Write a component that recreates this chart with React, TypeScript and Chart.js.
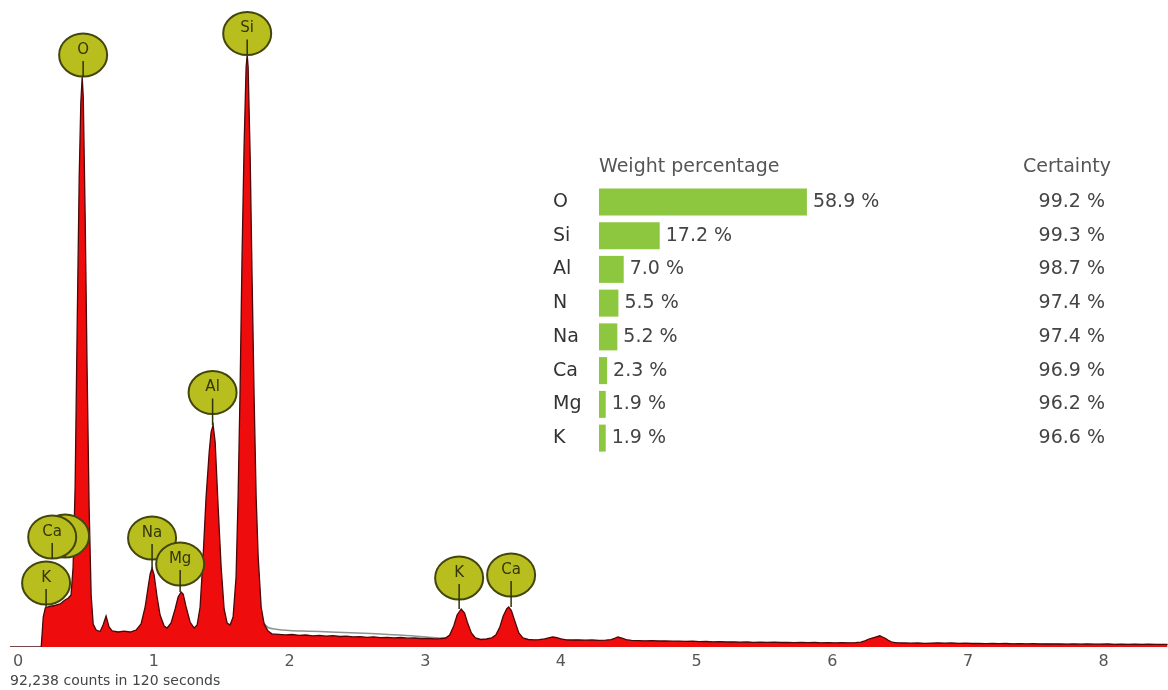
import React, { useEffect, useRef } from 'react';
import { Chart, registerables } from 'chart.js';

Chart.register(...registerables);

// ---------- EDS spectrum (energy in keV, counts) ----------
const energyKeV = [
  -0.06, 0.17, 0.185, 0.2, 0.23, 0.27, 0.31, 0.34, 0.37, 0.39,
  0.405, 0.42, 0.435, 0.45, 0.462, 0.472, 0.48, 0.494, 0.508, 0.523,
  0.538, 0.553, 0.575, 0.604, 0.626, 0.648, 0.67, 0.693, 0.737, 0.781,
  0.825, 0.87, 0.906, 0.936, 0.958, 0.973, 0.987, 1.002, 1.024, 1.046,
  1.076, 1.098, 1.127, 1.157, 1.179, 1.201, 1.216, 1.238, 1.267, 1.297,
  1.319, 1.341, 1.363, 1.385, 1.408, 1.422, 1.437, 1.452, 1.474, 1.496,
  1.518, 1.54, 1.562, 1.584, 1.606, 1.621, 1.636, 1.65, 1.665, 1.68,
  1.688, 1.695, 1.71, 1.724, 1.739, 1.754, 1.769, 1.791, 1.813, 1.842,
  1.87, 1.92, 1.97, 2.02, 2.07, 2.12, 2.17, 2.22, 2.27, 2.32,
  2.37, 2.42, 2.47, 2.52, 2.57, 2.62, 2.67, 2.72, 2.77, 2.82,
  2.87, 2.92, 2.97, 3.02, 3.07, 3.11, 3.15, 3.18, 3.21, 3.235,
  3.265, 3.29, 3.31, 3.34, 3.37, 3.41, 3.45, 3.49, 3.52, 3.55,
  3.575, 3.6, 3.615, 3.635, 3.66, 3.69, 3.72, 3.76, 3.8, 3.84,
  3.88, 3.91, 3.94, 3.97, 4.0, 4.04, 4.08, 4.13, 4.18, 4.23,
  4.28, 4.33, 4.37, 4.4, 4.42, 4.45, 4.48, 4.52, 4.57, 4.62,
  4.67, 4.72, 4.77, 4.82, 4.87, 4.92, 4.97, 5.02, 5.07, 5.12,
  5.17, 5.22, 5.27, 5.32, 5.37, 5.42, 5.47, 5.52, 5.57, 5.62,
  5.67, 5.72, 5.77, 5.82, 5.87, 5.92, 5.97, 6.02, 6.07, 6.12,
  6.17, 6.21, 6.24, 6.27, 6.3, 6.33, 6.35, 6.37, 6.39, 6.41,
  6.44, 6.48, 6.53, 6.58, 6.63, 6.68, 6.73, 6.78, 6.83, 6.88,
  6.93, 6.98, 7.03, 7.08, 7.13, 7.18, 7.23, 7.28, 7.33, 7.38,
  7.43, 7.48, 7.53, 7.58, 7.63, 7.68, 7.73, 7.78, 7.83, 7.88,
  7.93, 7.98, 8.03, 8.08, 8.13, 8.18, 8.23, 8.28, 8.33, 8.38,
  8.43, 8.47,
];
const counts = [
  0, 0, 300, 390, 405, 415, 430, 465, 490, 520,
  800, 1600, 3200, 4700, 5450, 5700, 5500, 4300, 2800, 1400,
  520, 230, 170, 155, 220, 310, 200, 160, 150, 158,
  150, 170, 230, 400, 600, 730, 790, 720, 500, 320,
  210, 190, 240, 380, 500, 550, 530, 400, 250, 190,
  220, 400, 900, 1500, 1950, 2150, 2220, 2050, 1400, 800,
  380, 240, 220, 300, 700, 1500, 2600, 3900, 5000, 5800,
  5920, 5800, 4900, 3700, 2500, 1500, 900, 400, 230, 160,
  132, 126, 121, 125, 117, 120, 112, 116, 109, 113,
  105, 108, 101, 104, 97, 102, 94, 97, 91, 95,
  88, 90, 85, 87, 82, 84, 90, 120, 210, 320,
  380, 340, 250, 140, 90, 75, 80, 92, 120, 200,
  310, 380, 400, 365, 260, 140, 90, 75, 72, 74,
  82, 92, 100, 94, 82, 72, 70, 72, 68, 70,
  66, 68, 74, 88, 100, 90, 74, 66, 64, 62,
  63, 60, 61, 58, 59, 56, 58, 54, 55, 52,
  54, 50, 52, 49, 50, 47, 49, 46, 48, 45,
  47, 44, 46, 43, 45, 42, 44, 41, 43, 42,
  44, 48, 62, 80, 92, 104, 112, 100, 88, 70,
  48, 42, 40, 38, 40, 37, 39, 42, 38, 40,
  36, 38, 35, 37, 34, 36, 33, 35, 32, 34,
  31, 33, 30, 32, 30, 31, 29, 31, 28, 30,
  28, 29, 30, 27, 29, 27, 28, 26, 28, 26,
  27, 26,
];

// fitted background (grey line)
const backgroundKeV = [1.8, 1.842, 1.9, 2.0, 2.15, 2.3, 2.5, 2.7, 2.9, 3.1, 3.4, 3.8, 4.5, 5.5, 6.5, 7.5, 8.47];
const backgroundCounts = [260, 195, 178, 166, 158, 150, 140, 128, 112, 90, 70, 62, 52, 40, 32, 26, 22];

const xTickValues = [0, 1, 2, 3, 4, 5, 6, 7, 8];
const countsCaption = '92,238 counts in 120 seconds';

// element markers on the spectrum (marker centre in keV / counts)
const peakLabels = ['N', 'Ca', 'K', 'O', 'Si', 'Al', 'Na', 'Mg', 'K', 'Ca'];
const peakLabelKeV = [0.346, 0.251, 0.206, 0.479, 1.688, 1.433, 0.987, 1.194, 3.25, 3.633];
const peakLabelCounts = [1110, 1100, 640, 5920, 6135, 2545, 1090, 830, 690, 720];

// ---------- quantification table ----------
const elements = ['O', 'Si', 'Al', 'N', 'Na', 'Ca', 'Mg', 'K'];
const weightPct = [58.9, 17.2, 7.0, 5.5, 5.2, 2.3, 1.9, 1.9];
const certaintyPct = [99.2, 99.3, 98.7, 97.4, 97.4, 96.9, 96.2, 96.6];
const weightHeader = 'Weight percentage';
const certaintyHeader = 'Certainty';

const FONT = '"DejaVu Sans", sans-serif';

export default function App() {
  const specRef = useRef<HTMLCanvasElement>(null);
  const tableRef = useRef<HTMLCanvasElement>(null);

  useEffect(() => {
    const spectrumPoints = energyKeV.map((e, i) => ({ x: e, y: counts[i] }));
    const bgPoints = backgroundKeV.map((e, i) => ({ x: e, y: backgroundCounts[i] }));

    const labelPlugin = {
      id: 'peakLabels',
      afterDatasetsDraw(chart: any) {
        const { ctx } = chart;
        const x = chart.scales.x;
        const y = chart.scales.y;
        ctx.save();
        peakLabels.forEach((name, i) => {
          const cx = x.getPixelForValue(peakLabelKeV[i]);
          const cy = y.getPixelForValue(peakLabelCounts[i]);
          const rx = 24;
          const ry = 21.5;
          let best = 0;
          energyKeV.forEach((e, j) => {
            if (Math.abs(e - peakLabelKeV[i]) <= 0.02 && counts[j] > best) best = counts[j];
          });
          const peakPx = y.getPixelForValue(best);
          const bottom = cy + ry;
          const tickEnd = peakPx > bottom && peakPx - bottom < 20 ? peakPx : bottom;
          ctx.beginPath();
          ctx.ellipse(cx, cy, rx, ry, 0, 0, Math.PI * 2);
          ctx.fillStyle = '#b9be1f';
          ctx.fill();
          ctx.lineWidth = 2;
          ctx.strokeStyle = '#43460c';
          ctx.stroke();
          ctx.beginPath();
          ctx.moveTo(cx, cy + 6);
          ctx.lineTo(cx, tickEnd);
          ctx.lineWidth = 1.5;
          ctx.strokeStyle = '#2f3208';
          ctx.stroke();
          ctx.fillStyle = '#34360a';
          ctx.font = `15px ${FONT}`;
          ctx.textAlign = 'center';
          ctx.textBaseline = 'middle';
          ctx.fillText(name, cx, cy - 5);
        });
        ctx.fillStyle = '#444';
        ctx.font = `14px ${FONT}`;
        ctx.textAlign = 'left';
        ctx.textBaseline = 'middle';
        ctx.fillText(countsCaption, chart.chartArea.left, chart.height - 9);
        ctx.restore();
      },
    };

    const spec = new Chart(specRef.current as HTMLCanvasElement, {
      type: 'line',
      data: {
        datasets: [
          {
            data: spectrumPoints,
            fill: 'origin',
            backgroundColor: '#ee0c0c',
            borderColor: '#4a0808',
            borderWidth: 1.3,
            pointRadius: 0,
            tension: 0,
            order: 0,
          },
          {
            data: bgPoints,
            fill: false,
            borderColor: '#8c9494',
            borderWidth: 1.5,
            pointRadius: 0,
            tension: 0.3,
            order: 1,
          },
        ],
      } as any,
      options: {
        responsive: false,
        animation: false,
        layout: { padding: { left: 10, right: 0, top: 0, bottom: 0 } },
        scales: {
          x: {
            type: 'linear',
            min: -0.06,
            max: 8.474,
            grid: { display: false, drawTicks: false },
            border: { display: false },
            afterFit: (s: any) => {
              s.height = 43;
            },
            afterBuildTicks: (s: any) => {
              s.ticks = xTickValues.map((v) => ({ value: v }));
            },
            ticks: {
              autoSkip: false,
              maxRotation: 0,
              padding: 5,
              color: '#555',
              font: { family: FONT, size: 16 },
              callback: (v: any) => String(v),
            },
          },
          y: { display: false, min: 0, max: 6470 },
        },
        plugins: { legend: { display: false }, tooltip: { enabled: false } },
      } as any,
      plugins: [labelPlugin],
    });

    const tablePlugin = {
      id: 'tableText',
      afterDatasetsDraw(chart: any) {
        const { ctx, chartArea } = chart;
        const meta = chart.getDatasetMeta(0);
        ctx.save();
        ctx.font = `19px ${FONT}`;
        ctx.textBaseline = 'middle';
        ctx.textAlign = 'left';
        ctx.fillStyle = '#555';
        ctx.fillText(weightHeader, chartArea.left, chartArea.top - 18);
        ctx.fillText(certaintyHeader, chartArea.right + 71, chartArea.top - 18);
        meta.data.forEach((bar: any, i: number) => {
          ctx.textAlign = 'left';
          ctx.fillStyle = '#333';
          ctx.fillText(elements[i], chartArea.left - 46, bar.y);
          ctx.fillStyle = '#444';
          ctx.fillText(`${weightPct[i].toFixed(1)} %`, bar.x + 6, bar.y);
          ctx.textAlign = 'right';
          ctx.fillText(`${certaintyPct[i].toFixed(1)} %`, chartArea.right + 153, bar.y);
        });
        ctx.restore();
      },
    };

    const table = new Chart(tableRef.current as HTMLCanvasElement, {
      type: 'bar',
      data: {
        labels: elements,
        datasets: [
          {
            data: weightPct,
            backgroundColor: '#8dc63f',
            borderWidth: 0,
            barPercentage: 0.8,
            categoryPercentage: 1,
          },
        ],
      },
      options: {
        indexAxis: 'y',
        responsive: false,
        animation: false,
        layout: { padding: { left: 59, right: 216, top: 35, bottom: 5 } },
        scales: {
          x: { display: false, min: 0, max: 100 },
          y: { display: false },
        },
        plugins: { legend: { display: false }, tooltip: { enabled: false } },
      } as any,
      plugins: [tablePlugin],
    });

    return () => {
      spec.destroy();
      table.destroy();
    };
  }, []);

  return (
    <div style={{ position: 'fixed', left: 0, top: 0, width: 1168, height: 690, background: '#fff' }}>
      <canvas
        ref={specRef}
        width={1168}
        height={690}
        style={{ position: 'absolute', left: 0, top: 0, width: 1168, height: 690, display: 'block' }}
      />
      <canvas
        ref={tableRef}
        width={628}
        height={310}
        style={{ position: 'absolute', left: 540, top: 150, width: 628, height: 310, display: 'block' }}
      />
    </div>
  );
}
